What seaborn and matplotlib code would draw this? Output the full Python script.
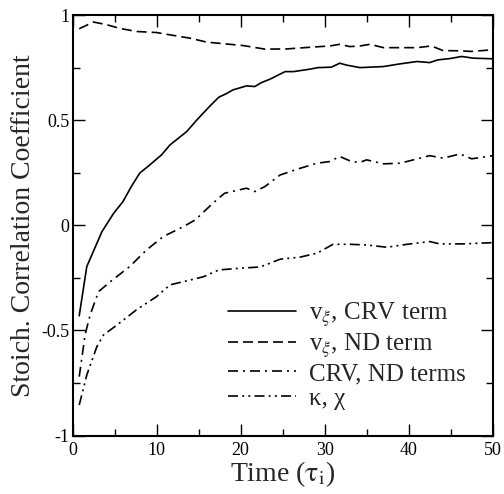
import matplotlib
matplotlib.use("Agg")
import matplotlib.pyplot as plt
import seaborn as sns
import pandas as pd
from matplotlib.ticker import MultipleLocator

# ---- data ----
t_crv = [0.8, 1.7, 3.5, 4.9, 6.0, 7.0, 8.0, 9.2, 10.6, 11.6, 13.6, 14.8, 16.3, 17.4,
         18.3, 19.1, 20.7, 21.7, 22.5, 23.5, 25.3, 26.3, 28.3, 29.2, 30.8, 31.8, 32.6,
         34.2, 37.0, 39.0, 41.0, 42.5, 43.5, 44.9, 46.3, 47.7, 50.0]
v_crv = [-0.43, -0.196, -0.03, 0.058, 0.113, 0.185, 0.249, 0.288, 0.336, 0.383, 0.447,
         0.502, 0.566, 0.61, 0.627, 0.645, 0.664, 0.661, 0.68, 0.696, 0.732, 0.732, 0.744,
         0.751, 0.753, 0.772, 0.763, 0.751, 0.756, 0.769, 0.78, 0.775, 0.788, 0.794, 0.804,
         0.796, 0.793]

t_nd = [0.8, 2.5, 4.1, 5.6, 7.6, 10.0, 11.6, 14.0, 16.0, 17.4, 20.3, 22.9, 25.5, 28.3,
        30.6, 31.8, 33.0, 34.2, 35.4, 37.0, 41.0, 42.7, 44.1, 46.1, 47.5, 50.0]
v_nd = [0.936, 0.968, 0.955, 0.938, 0.923, 0.918, 0.907, 0.891, 0.872, 0.867, 0.856,
        0.839, 0.84, 0.848, 0.854, 0.862, 0.851, 0.854, 0.862, 0.846, 0.846, 0.854, 0.832,
        0.831, 0.828, 0.836]

t_crvnd = [0.8, 1.5, 2.1, 3.1, 4.5, 6.8, 8.8, 10.8, 13.2, 14.6, 16.4, 17.4, 18.1, 20.7,
           21.7, 22.9, 24.7, 27.1, 29.1, 30.6, 31.8, 33.2, 34.2, 35.0, 37.0, 39.0, 42.5,
           44.1, 46.1, 47.5, 50.0]
v_crvnd = [-0.72, -0.52, -0.426, -0.315, -0.268, -0.196, -0.117, -0.053, -0.006, 0.026,
           0.094, 0.13, 0.153, 0.177, 0.161, 0.185, 0.24, 0.272, 0.296, 0.304, 0.328,
           0.304, 0.3, 0.312, 0.293, 0.296, 0.332, 0.32, 0.34, 0.317, 0.332]

t_kc = [0.8, 1.7, 2.9, 3.7, 5.3, 7.6, 10.0, 11.6, 14.0, 15.6, 17.4, 19.9, 22.3, 23.5,
        24.7, 27.1, 29.1, 31.0, 33.0, 35.0, 37.4, 39.8, 42.5, 43.7, 46.5, 50.0]
v_kc = [-0.855, -0.712, -0.577, -0.521, -0.474, -0.402, -0.339, -0.283, -0.26, -0.244,
        -0.212, -0.204, -0.198, -0.18, -0.161, -0.151, -0.132, -0.09, -0.09, -0.093,
        -0.104, -0.09, -0.077, -0.088, -0.088, -0.082]

labels = [r"v$_{\xi}$, CRV term", r"v$_{\xi}$, ND term", "CRV, ND terms", "κ, χ"]

# ---- style ----
sns.set_theme(style="ticks")
plt.rcParams["font.family"] = ["Liberation Serif", "DejaVu Serif"]
plt.rcParams["mathtext.fontset"] = "stix"

fig = plt.figure(figsize=(5.04, 4.94), dpi=100)
ax = fig.add_axes([72.5 / 504, 1 - 435.5 / 494, (492.7 - 72.5) / 504, (435.5 - 15.3) / 494])

series = [
    (t_crv, v_crv, "-"),
    (t_nd, v_nd, (0, (6, 3))),
    (t_crvnd, v_crvnd, (0, (6, 3, 1.2, 3))),
    (t_kc, v_kc, (0, (6, 2.5, 1.2, 2.5, 1.2, 2.5))),
]
for (tt, vv, ls), lab in zip(series, labels):
    df = pd.DataFrame({"t": tt, "v": vv})
    sns.lineplot(data=df, x="t", y="v", ax=ax, color="black", linestyle=ls,
                 linewidth=1.2, label=lab, errorbar=None, sort=False)

ax.set_xlim(0, 50)
ax.set_ylim(-1, 1)
ax.xaxis.set_major_locator(MultipleLocator(10))
ax.xaxis.set_minor_locator(MultipleLocator(5))
ax.yaxis.set_major_locator(MultipleLocator(0.5))
ax.yaxis.set_minor_locator(MultipleLocator(0.25))
ax.set_yticks([-1, -0.5, 0, 0.5, 1])
ax.set_yticklabels(["-1", "-0.5", "0", "0.5", "1"])
ax.tick_params(which="both", direction="in", top=True, right=True, colors="black",
               labelsize=13)
ax.tick_params(which="major", length=8.5, width=1.0)
ax.tick_params(which="minor", length=5, width=1.0)
ax.tick_params(axis="x", pad=5)
ax.tick_params(axis="y", pad=2)
for s in ax.spines.values():
    s.set_linewidth(1.5)
    s.set_color("black")

ax.set_xlabel(r"Time ($\mathrm{\tau_i}$)", fontsize=20, labelpad=0)
ax.set_ylabel("Stoich. Correlation Coefficient", fontsize=20, labelpad=4)

leg = ax.legend(loc="upper left", bbox_to_anchor=(228 / 504, 1 - 300 / 494),
                bbox_transform=fig.transFigure, frameon=False, fontsize=18,
                handlelength=2.7, handletextpad=0.55, labelspacing=0.1,
                borderpad=0, borderaxespad=0)

fig.savefig("out.png", dpi=100)
